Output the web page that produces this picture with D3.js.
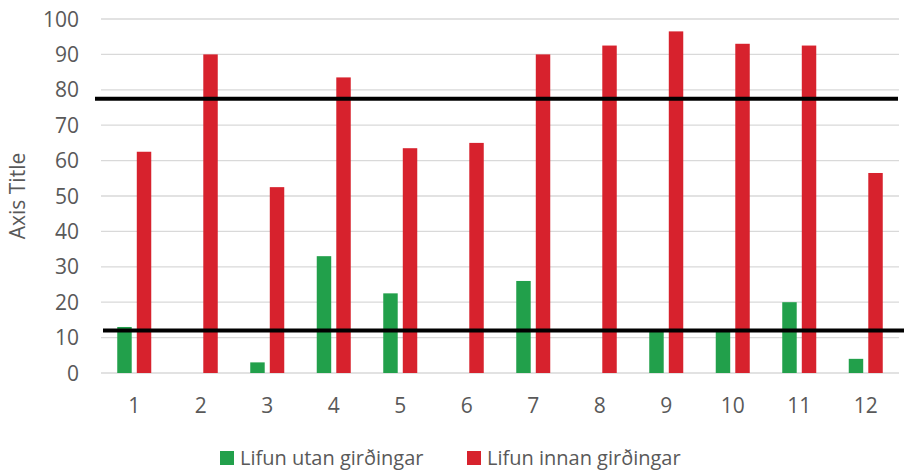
<!DOCTYPE html>
<html>
<head>
<meta charset="utf-8">
<script src="https://cdn.jsdelivr.net/npm/d3@7"></script>
<style>
  html, body { margin: 0; padding: 0; background: #fff; overflow: hidden; }
  svg { display: block; }
  text { font-family: "Open Sans", Lato, sans-serif; fill: #595959; }
</style>
</head>
<body>
<svg id="chart" width="904" height="470"></svg>
<script>
const categories = ["1", "2", "3", "4", "5", "6", "7", "8", "9", "10", "11", "12"];
const seriesNames = ["Lifun utan girðingar", "Lifun innan girðingar"];
const utan = [13, 0, 3, 33, 22.5, 0, 26, 0, 12, 12, 20, 4];
const innan = [62.5, 90, 52.5, 83.5, 63.5, 65, 90, 92.5, 96.5, 93, 92.5, 56.5];
const yTicks = [0, 10, 20, 30, 40, 50, 60, 70, 80, 90, 100];
const refLines = [77.5, 12];
const colors = ["#22a04b", "#d7222d"];

const svg = d3.select("#chart");
const margin = { top: 19, right: 5, bottom: 97, left: 101 };
const width = +svg.attr("width");
const height = +svg.attr("height");
const innerWidth = width - margin.left - margin.right;
const innerHeight = height - margin.top - margin.bottom;

const x = d3.scaleBand().domain(categories).range([0, innerWidth]);
const xSub = d3.scaleBand().domain(seriesNames).range([x.bandwidth() / 2 - 17, x.bandwidth() / 2 + 17]).paddingInner(0.26);
const y = d3.scaleLinear().domain([0, 100]).range([innerHeight, 0]);

const g = svg.append("g").attr("transform", `translate(${margin.left},${margin.top})`);

// gridlines
g.append("g")
    .selectAll("line")
    .data(yTicks)
    .join("line")
    .attr("x1", 0)
    .attr("x2", innerWidth)
    .attr("y1", d => y(d))
    .attr("y2", d => y(d))
    .attr("stroke", "#d9d9d9")
    .attr("stroke-width", 1.3);

// y labels
g.append("g")
    .selectAll("text")
    .data(yTicks)
    .join("text")
    .attr("x", -22)
    .attr("y", d => y(d))
    .attr("dy", "0.36em")
    .attr("text-anchor", "end")
    .attr("font-size", 21)
    .text(d => d);

// x labels
g.append("g")
    .selectAll("text")
    .data(categories)
    .join("text")
    .attr("x", d => x(d) + x.bandwidth() / 2)
    .attr("y", innerHeight + 39.5)
    .attr("text-anchor", "middle")
    .attr("font-size", 21)
    .text(d => d);

// axis title
svg.append("text")
    .attr("transform", `translate(25,${margin.top + innerHeight / 2}) rotate(-90)`)
    .attr("text-anchor", "middle")
    .attr("font-size", 21)
    .text("Axis Title");

// bars
const rows = categories.map((c, i) => ({ cat: c, vals: [utan[i], innan[i]] }));
const groups = g.append("g")
    .selectAll("g")
    .data(rows)
    .join("g")
    .attr("transform", d => `translate(${x(d.cat)},0)`);

groups.selectAll("rect")
    .data(d => d.vals.map((v, k) => ({ name: seriesNames[k], v, k })))
    .join("rect")
    .filter(d => d.v > 0)
    .attr("x", d => xSub(d.name))
    .attr("width", xSub.bandwidth())
    .attr("y", d => y(d.v))
    .attr("height", d => y(0) - y(d.v))
    .attr("fill", d => colors[d.k]);

// reference lines
g.append("g")
    .selectAll("line")
    .data(refLines)
    .join("line")
    .attr("x1", (d, i) => i === 0 ? -6 : 2)
    .attr("x2", (d, i) => i === 0 ? innerWidth - 1 : innerWidth + 5)
    .attr("y1", d => y(d))
    .attr("y2", d => y(d))
    .attr("stroke", "#000")
    .attr("stroke-width", 4);

// legend
const legendX = [220, 467];
const legend = svg.append("g")
    .selectAll("g")
    .data(seriesNames)
    .join("g")
    .attr("transform", (d, i) => `translate(${legendX[i]},451)`);

legend.append("rect")
    .attr("width", 14)
    .attr("height", 14)
    .attr("fill", (d, i) => colors[i]);

legend.append("text")
    .attr("x", 20)
    .attr("y", 14)
    .attr("font-size", 20)
    .text(d => d);
</script>
</body>
</html>
